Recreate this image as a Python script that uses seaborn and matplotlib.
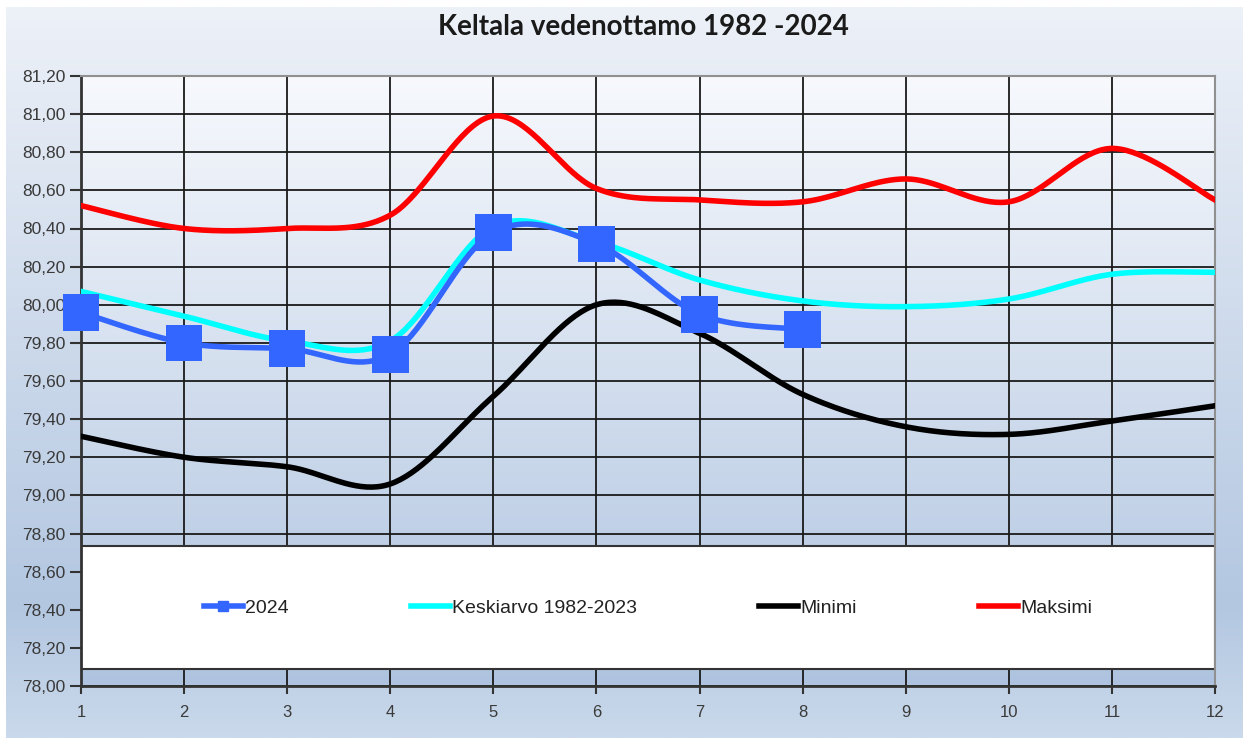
import numpy as np
import pandas as pd
import seaborn as sns
import matplotlib.pyplot as plt
from matplotlib.lines import Line2D
from matplotlib.patches import Rectangle
from matplotlib.colors import LinearSegmentedColormap

# data (month 1..12)
months = [1, 2, 3, 4, 5, 6, 7, 8, 9, 10, 11, 12]
y2024 = [79.96, 79.80, 79.77, 79.74, 80.38, 80.32, 79.95, 79.87]
keskiarvo = [80.07, 79.94, 79.81, 79.81, 80.41, 80.33, 80.13, 80.02, 79.99, 80.03, 80.16, 80.17]
minimi = [79.31, 79.20, 79.15, 79.06, 79.52, 80.00, 79.85, 79.53, 79.36, 79.32, 79.39, 79.47]
maksimi = [80.52, 80.40, 80.40, 80.47, 80.99, 80.61, 80.55, 80.54, 80.66, 80.54, 80.82, 80.55]

series_names = ["2024", "Keskiarvo 1982-2023", "Minimi", "Maksimi"]
series_colors = ["#3366ff", "#00ffff", "#000000", "#ff0000"]

y_ticks = [78.0, 78.2, 78.4, 78.6, 78.8, 79.0, 79.2, 79.4, 79.6, 79.8, 80.0, 80.2, 80.4, 80.6, 80.8, 81.0, 81.2]
y_ticklabels = [f"{v:.2f}".replace(".", ",") for v in y_ticks]
title = "Keltala vedenottamo 1982 -2024"


def smooth(xs, ys, n=40):
    # Catmull-Rom curve like the spreadsheet's smoothed line
    xs = np.asarray(xs, float)
    ys = np.asarray(ys, float)
    px = np.concatenate([[xs[0]], xs, [xs[-1]]])
    py = np.concatenate([[ys[0]], ys, [ys[-1]]])
    outx, outy = [], []
    t = np.linspace(0, 1, n)
    for i in range(1, len(px) - 2):
        for p, out in ((px, outx), (py, outy)):
            p0, p1, p2, p3 = p[i - 1], p[i], p[i + 1], p[i + 2]
            c1 = p1 + (p2 - p0) / 6
            c2 = p2 - (p3 - p1) / 6
            out.extend((1 - t) ** 3 * p1 + 3 * (1 - t) ** 2 * t * c1 + 3 * (1 - t) * t ** 2 * c2 + t ** 3 * p2)
    return outx, outy


frames = []
for name, vals in zip(series_names, [y2024, keskiarvo, minimi, maksimi]):
    sx, sy = smooth(months[:len(vals)], vals)
    frames.append(pd.DataFrame({"x": sx, "y": sy, "sarja": name}))
curves = pd.concat(frames, ignore_index=True)
points = pd.DataFrame({"x": months[:len(y2024)], "y": y2024})

plt.rcParams["font.family"] = ["Liberation Sans", "DejaVu Sans"]
fig = plt.figure(figsize=(12.49, 7.38), dpi=100, facecolor="white")

# figure background gradient
bg = fig.add_axes([6 / 1249, 0, 1 - 12 / 1249, 1 - 7 / 738], zorder=-10)
bg_cmap = LinearSegmentedColormap.from_list("bg", [(0, "#edf1f8"), (0.82, "#b3c7e1"), (1, "#cad9eb")])
bg.imshow(np.linspace(0, 1, 256).reshape(-1, 1), aspect="auto", cmap=bg_cmap, extent=[0, 1, 0, 1])
bg.axis("off")

ax = fig.add_axes([81 / 1249, 1 - 686 / 738, (1215 - 81) / 1249, 610 / 738])
ax.set_xlim(1, 12)
ax.set_ylim(78.0, 81.2)
pa_cmap = LinearSegmentedColormap.from_list("pa", ["#f7f9fd", "#aec3df"])
ax.imshow(np.linspace(0, 1, 256).reshape(-1, 1), aspect="auto", cmap=pa_cmap,
          extent=[1, 12, 78.0, 81.2], zorder=0)

ax.set_axisbelow(True)
ax.grid(True, color="#1a1a1a", lw=1.3)

ax.add_patch(Rectangle((1, 78.087), 11, 0.649, facecolor="white", edgecolor="#333333", lw=1.5, zorder=1))

sns.lineplot(data=curves, x="x", y="y", hue="sarja", palette=dict(zip(series_names, series_colors)),
             hue_order=series_names[::-1], sort=False, estimator=None, units="sarja",
             lw=4, ax=ax, legend=False, zorder=3)
sns.scatterplot(data=points, x="x", y="y", marker="s", s=690, color=series_colors[0],
                edgecolor="none", ax=ax, zorder=4, legend=False, clip_on=False)

ax.set_xticks(months)
ax.set_yticks(y_ticks)
ax.set_yticklabels(y_ticklabels)
ax.tick_params(axis="both", colors="#333333", labelcolor="#3a3a3a", width=1.5, labelsize=12.5)
ax.tick_params(axis="y", length=8, pad=3)
ax.tick_params(axis="x", length=6, pad=8, labelsize=12)
ax.set_xlabel("")
ax.set_ylabel("")
for side in ["left", "bottom"]:
    ax.spines[side].set_color("#333333")
    ax.spines[side].set_linewidth(2)
for side in ["top", "right"]:
    ax.spines[side].set_color("#909090")
    ax.spines[side].set_linewidth(1.5)

handles = [Line2D([], [], color=series_colors[0], lw=4, marker="s", ms=7),
           Line2D([], [], color=series_colors[1], lw=4),
           Line2D([], [], color=series_colors[2], lw=4),
           Line2D([], [], color=series_colors[3], lw=4)]
ax.legend(handles, series_names, loc="center", bbox_to_anchor=(0.5, 0.128), ncol=4, frameon=False,
          fontsize=14, handlelength=2.0, handletextpad=0.1, columnspacing=6.3,
          labelcolor="#222222")

fig.text(643 / 1249, 1 - 27 / 738, title, ha="center", va="center", fontsize=20,
         fontweight="bold", color="#1a1a1a", family=["Lato", "DejaVu Sans"])

fig.savefig("out.png", dpi=100)
